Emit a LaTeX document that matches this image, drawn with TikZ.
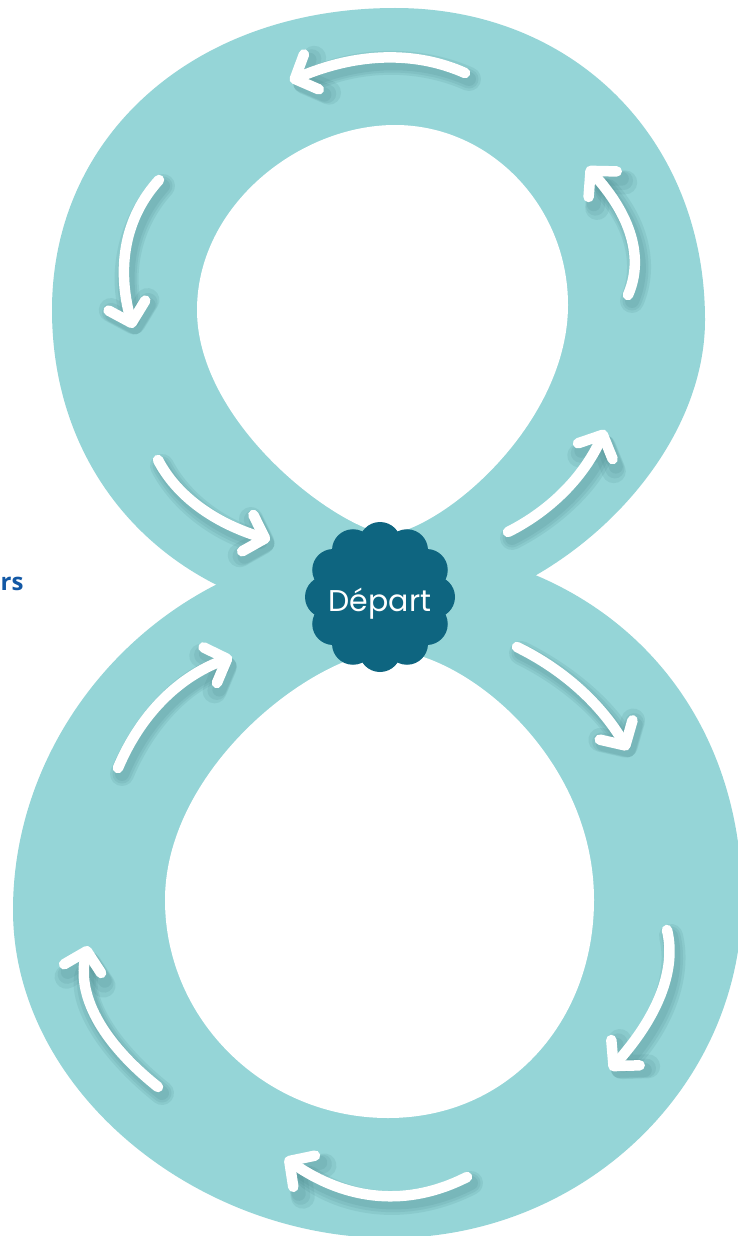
\documentclass[tikz,border=0pt]{standalone}
\usepackage{fontspec}
\newfontfamily\popfont{Poppins}
\newfontfamily\osfont{Open Sans}
\usetikzlibrary{arrows.meta,calc}
\definecolor{eightc}{RGB}{149,213,215}
\definecolor{flowerc}{RGB}{14,101,128}
\definecolor{shadc}{RGB}{50,110,116}
\definecolor{txtblue}{RGB}{18,88,165}
\tikzset{
  arrowline/.style={white, line width=10.5pt, line cap=round,
    -{Straight Barb[length=18pt,width=38pt,round]}},
  shadowline/.style={shadc, line cap=round, opacity=0.1,
    -{Straight Barb[length=18pt,width=38pt,round]}},
}
% #1 start, #2 quadratic control, #3 end (tip)
\newcommand\myarrow[3]{%
  \foreach \w in {24,19,14}{\draw[shadowline, line width=\w pt, shift={(4,6)}]
    #1 .. controls ($#1!0.6667!#2$) and ($#3!0.6667!#2$) .. #3;}
  \draw[arrowline] #1 .. controls ($#1!0.6667!#2$) and ($#3!0.6667!#2$) .. #3;}
\begin{document}
\begin{tikzpicture}[x=1pt,y=-1pt]
\useasboundingbox (0,0) rectangle (737,1236);
\fill[white] (0,0) rectangle (737,1236);
% top outer bowl
\fill[eightc] (395,8) .. controls (575,8) and (705,140) .. (705,320)
  .. controls (705,470) and (540,620) .. (380,620)
  .. controls (200,625) and (52,500) .. (52,310)
  .. controls (52,135) and (195,8) .. (395,8) -- cycle;
% bottom outer bowl
\fill[eightc] (380,545) .. controls (590,545) and (742,690) .. (742,900)
  .. controls (742,1086) and (584,1238) .. (390,1238)
  .. controls (196,1238) and (13,1090) .. (13,910)
  .. controls (13,715) and (178,545) .. (380,545) -- cycle;
% top hole
\fill[white] (395,125) .. controls (490,125) and (568,206) .. (568,305)
  .. controls (568,420) and (450,525) .. (388,535)
  .. controls (330,525) and (197,420) .. (197,310)
  .. controls (197,205) and (300,125) .. (395,125) -- cycle;
% bottom hole
\fill[white] (390,650) .. controls (470,655) and (594,760) .. (594,900)
  .. controls (594,1020) and (510,1118) .. (388,1118)
  .. controls (265,1118) and (165,1020) .. (165,900)
  .. controls (165,770) and (310,655) .. (390,650) -- cycle;
% arrows
\myarrow{(465,73)}{(388.5,39)}{(290,81)}
\myarrow{(159,180)}{(108,236)}{(133,328)}
\myarrow{(158,460)}{(186,514)}{(270,540)}
\myarrow{(118,768)}{(152,687)}{(232,657)}
\myarrow{(158,1087)}{(71,1017.5)}{(88,946)}
\myarrow{(467,1177)}{(378,1222.5)}{(285,1158)}
\myarrow{(667,930)}{(681.5,990)}{(610,1070)}
\myarrow{(517,647)}{(587.5,681.5)}{(628,750)}
\myarrow{(508,532)}{(573.5,499)}{(605,430)}
\myarrow{(628,295)}{(652.5,239)}{(587,167)}
% flower
\coordinate (fc) at (380,597);
\fill[flowerc] (fc) circle[radius=56];
\foreach \a in {0,30,...,330}{\fill[flowerc] (fc) ++(\a:54) circle[radius=21];}
\node[text=white, font=\popfont\fontsize{30}{30}\selectfont, anchor=base] (depart) at (380,611) {Départ};
\node[text=txtblue, font=\osfont\bfseries\fontsize{24}{24}\selectfont, anchor=base west, inner sep=0pt] (rs) at (0.5,590) {rs};
\end{tikzpicture}
\end{document}
